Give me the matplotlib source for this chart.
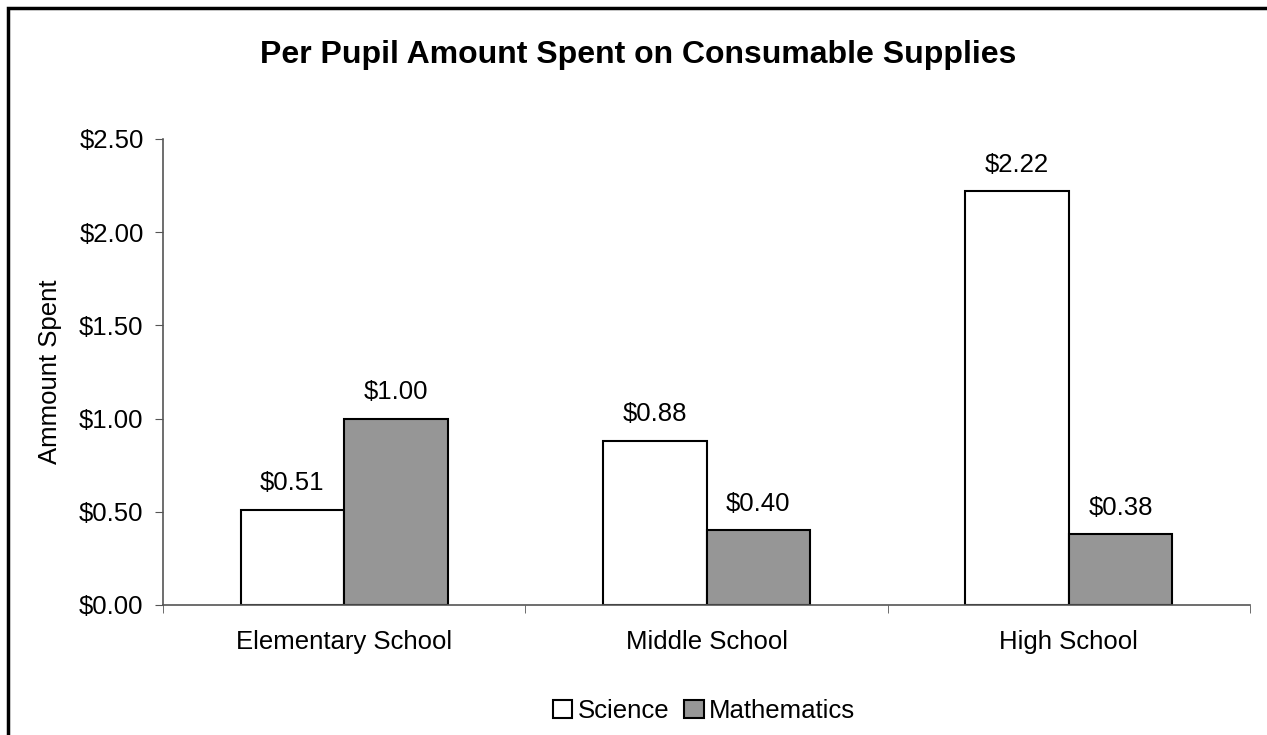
import matplotlib
matplotlib.use("Agg")
import matplotlib.pyplot as plt
import numpy as np

plt.rcParams['font.family'] = ['Liberation Sans', 'DejaVu Sans']

categories = ["Elementary School", "Middle School", "High School"]
science = [0.51, 0.88, 2.22]
mathematics = [1.00, 0.40, 0.38]
yticks = [0.0, 0.5, 1.0, 1.5, 2.0, 2.5]

fig = plt.figure(figsize=(12.67, 7.35), dpi=100)
ax = fig.add_axes([163/1267, 1 - 605/735, 1087/1267, 466/735])

# outer chart border
fig.patches.append(plt.Rectangle((8/1267, -0.1), 1.2, 1 - 8/735 + 0.1,
                                 transform=fig.transFigure, fill=False,
                                 edgecolor="black", linewidth=2.5))

x = np.arange(len(categories))
w = 1 / 3.5
b1 = ax.bar(x - w/2, science, w, color="white", edgecolor="black", linewidth=1.5, label="Science")
b2 = ax.bar(x + w/2, mathematics, w, color="#969696", edgecolor="black", linewidth=1.5, label="Mathematics")

for bars, vals in ((b1, science), (b2, mathematics)):
    for r, v in zip(bars, vals):
        ax.text(r.get_x() + r.get_width()/2, v + 0.105, f"${v:.2f}",
                ha="center", va="baseline", fontsize=18.5)

ax.set_xlim(-0.5, 2.5)
ax.set_ylim(0, 2.5)
ax.set_yticks(yticks)
ax.set_yticklabels([f"${t:.2f}" for t in yticks], fontsize=18.5)
ax.set_xticks(x)
ax.set_xticklabels(categories, fontsize=18.5)
ax.tick_params(axis="x", length=0, pad=18)
ax.set_xticks([-0.5, 0.5, 1.5, 2.5], minor=True)
ax.tick_params(axis="x", which="minor", length=6, color="#555555")
ax.tick_params(axis="y", length=6, color="#555555", pad=8)

for s in ("top", "right"):
    ax.spines[s].set_visible(False)
for s in ("left", "bottom"):
    ax.spines[s].set_color("#555555")
    ax.spines[s].set_linewidth(1.2)

ax.set_ylabel("Ammount Spent", fontsize=18.5)
ax.yaxis.set_label_coords(-(163 - 62) / 1087, 0.5)
fig.text(638/1267, 1 - 55/735, "Per Pupil Amount Spent on Consumable Supplies",
         ha="center", va="center", fontsize=23, fontweight="bold")

fig.legend(handles=[b1, b2], loc="center", bbox_to_anchor=(704/1267, 1 - 711/735),
           ncol=2, frameon=False, fontsize=18.5, handlelength=0.75, handleheight=0.75,
           handletextpad=0.2, columnspacing=0.6)

fig.savefig("out.png", dpi=100)
